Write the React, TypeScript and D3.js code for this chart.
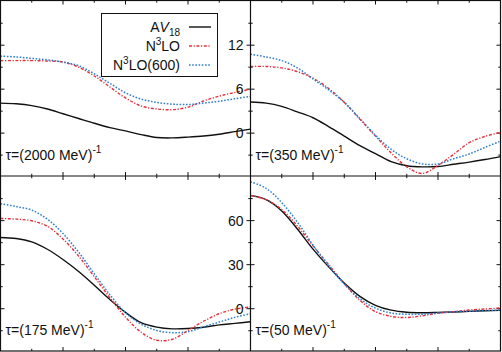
import React from 'react'
import * as d3 from 'd3'

// r grid (arbitrary units, 0..4 across each panel)
const rGrid = [0, 0.25, 0.5, 0.75, 1, 1.25, 1.5, 1.75, 2, 2.25, 2.5, 2.75, 3, 3.25, 3.5, 3.75, 4]

const tauLabels = ['2000', '350', '175', '50']

// tau = (2000 MeV)^-1
const av18_2000 = [4.1, 4.0, 3.75, 3.3, 2.65, 2.0, 1.35, 0.75, 0.3, -0.2, -0.6, -0.65, -0.55, -0.4, -0.15, 0.2, 0.55]
const n3lo_2000 = [9.9, 9.9, 9.9, 9.85, 9.7, 9.0, 7.8, 6.3, 4.8, 3.7, 3.3, 3.2, 3.55, 4.4, 5.05, 5.55, 6.0]
const n3lo600_2000 = [10.5, 10.4, 10.2, 10.0, 9.7, 9.2, 8.1, 6.8, 5.5, 4.65, 4.2, 3.95, 3.9, 4.1, 4.35, 4.7, 5.0]

// tau = (350 MeV)^-1
const av18_350 = [4.25, 4.1, 3.65, 2.9, 2.1, 0.9, -0.4, -1.7, -2.8, -3.9, -4.45, -4.6, -4.55, -4.25, -3.95, -3.6, -3.2]
const n3lo_350 = [9.1, 9.1, 8.9, 8.4, 7.5, 6.1, 4.2, 1.9, -0.4, -2.7, -4.6, -5.5, -4.4, -2.9, -1.3, -0.45, 0.1]
const n3lo600_350 = [10.75, 10.4, 9.9, 8.9, 7.4, 5.9, 4.2, 2.0, -0.3, -2.2, -3.5, -4.2, -4.2, -3.5, -2.85, -1.95, -1.1]

// tau = (175 MeV)^-1
const av18_175 = [48.5, 47.8, 45.5, 40.5, 33.5, 25.3, 16.0, 6.3, -2.5, -9.5, -12.5, -13.7, -13.5, -12.6, -11.0, -10.0, -8.9]
const n3lo_175 = [61.5, 61.0, 59.9, 56.2, 47.5, 35.8, 21.8, 7.5, -5.8, -16.0, -21.5, -20.8, -14.8, -8.5, -3.4, -0.3, 1.2]
const n3lo600_175 = [71.5, 69.6, 67.2, 61.0, 51.2, 38.5, 23.8, 9.5, -2.8, -10.5, -14.8, -16.3, -15.6, -12.3, -9.1, -5.9, -3.4]

// tau = (50 MeV)^-1
const av18_50 = [77.2, 74.3, 66.6, 54.3, 40.6, 28.5, 17.5, 8.4, 2.3, -1.0, -2.4, -2.7, -2.5, -2.2, -1.8, -1.4, -1.1]
const n3lo_50 = [77.2, 74.3, 67.6, 56.3, 42.8, 30.1, 17.1, 5.7, -2.0, -5.2, -6.0, -4.8, -3.1, -2.0, -0.9, -0.2, 0.5]
const n3lo600_50 = [86.5, 82.0, 72.3, 59.0, 43.4, 29.2, 16.8, 6.8, 0.4, -2.9, -3.8, -3.7, -3.0, -2.1, -1.7, -1.3, -0.9]

const topTicks = [-3, 0, 3, 6, 9, 12, 15]
const topLabels = [0, 6, 12]
const bottomTicks = [-15, 0, 15, 30, 45, 60, 75]
const bottomLabels = [0, 30, 60]
const xTicks = [0.5, 1, 1.5, 2, 2.5, 3, 3.5]

const BLACK = '#111'
const RED = '#e8303a'
const BLUE = '#2f7fcf'
const FONT = '"Liberation Sans", Arial, Helvetica, sans-serif'

const panels = [
  { tau: tauLabels[0], series: [av18_2000, n3lo_2000, n3lo600_2000], col: 0, row: 0 },
  { tau: tauLabels[1], series: [av18_350, n3lo_350, n3lo600_350], col: 1, row: 0 },
  { tau: tauLabels[2], series: [av18_175, n3lo_175, n3lo600_175], col: 0, row: 1 },
  { tau: tauLabels[3], series: [av18_50, n3lo_50, n3lo600_50], col: 1, row: 1 },
]

const styles = [
  { stroke: BLACK, dash: undefined, width: 1.4 },
  { stroke: RED, dash: '3,1.6,1.2,1.6', width: 1.4 },
  { stroke: BLUE, dash: '1.6,1.6', width: 1.5 },
]

const xLeft = [0.5, 250.5, 500.5]
const yTop = [0.5, 176, 351]

const App = () => {
  const width = 502
  const height = 352

  const yScales = [
    d3.scaleLinear().domain([-5.85, 18.1]).range([yTop[1], yTop[0]]),
    d3.scaleLinear().domain([-28.8, 90.4]).range([yTop[2], yTop[1]]),
  ]
  const ticksFor = [topTicks, bottomTicks]
  const labelsFor = [topLabels, bottomLabels]
  const majorStep = [6, 30]

  return (
    <svg width={width} height={height} style={{ position: 'absolute', left: 0, top: 0, background: '#fff' }}
      fontFamily={FONT}>
      <defs>
        {panels.map((p, i) => (
          <clipPath id={`clip${i}`} key={i}>
            <rect x={xLeft[p.col]} y={yTop[p.row]} width={xLeft[p.col + 1] - xLeft[p.col]} height={yTop[p.row + 1] - yTop[p.row]} />
          </clipPath>
        ))}
      </defs>
      {panels.map((p, i) => {
        const x = d3.scaleLinear().domain([0, 4]).range([xLeft[p.col], xLeft[p.col + 1]])
        const y = yScales[p.row]
        const x0 = xLeft[p.col], x1 = xLeft[p.col + 1]
        const y0 = yTop[p.row], y1 = yTop[p.row + 1]
        const line = d3.line<number>()
          .x((d, k) => x(rGrid[k]))
          .y(d => y(d))
          .curve(d3.curveCatmullRom.alpha(0.5))
        return (
          <g key={i}>
            {/* ticks, inward on all four sides */}
            {xTicks.map(t => {
              const len = Number.isInteger(t) ? 4 : 2.2
              return (
                <g key={'x' + t} stroke={BLACK} strokeWidth={1}>
                  <line x1={x(t)} x2={x(t)} y1={y1} y2={y1 - len} />
                  <line x1={x(t)} x2={x(t)} y1={y0} y2={y0 + len} />
                </g>
              )
            })}
            {ticksFor[p.row].map(t => {
              const len = t % majorStep[p.row] === 0 ? 4 : 2.2
              return (
                <g key={'y' + t} stroke={BLACK} strokeWidth={1}>
                  <line x1={x0} x2={x0 + len} y1={y(t)} y2={y(t)} />
                  <line x1={x1} x2={x1 - len} y1={y(t)} y2={y(t)} />
                </g>
              )
            })}
            {/* right-column axis labels sit just left of its frame */}
            {p.col === 1 && labelsFor[p.row].map(t => (
              <text key={'l' + t} x={x0 - 7} y={y(t)} dy="0.36em" textAnchor="end" fontSize={14} fill={BLACK}>{t}</text>
            ))}
            <g clipPath={`url(#clip${i})`}>
              {p.series.map((s, k) => (
                <path key={k} d={line(s) || ''} fill="none" stroke={styles[k].stroke}
                  strokeWidth={styles[k].width} strokeDasharray={styles[k].dash} />
              ))}
            </g>
            <text x={x0 + 5} y={y1 - 16} fontSize={14} fill={BLACK}>
              τ=({p.tau} MeV)<tspan dy={-7} fontSize={10}>-1</tspan>
            </text>
          </g>
        )
      })}
      {/* frames */}
      <g fill="none" stroke={BLACK} strokeWidth={1.2}>
        <rect x={xLeft[0]} y={yTop[0]} width={xLeft[2] - xLeft[0]} height={yTop[2] - yTop[0]} />
        <line x1={xLeft[1]} x2={xLeft[1]} y1={yTop[0]} y2={yTop[2]} />
        <line x1={xLeft[0]} x2={xLeft[2]} y1={yTop[1]} y2={yTop[1]} />
      </g>
      {/* legend */}
      <g>
        <rect x={101.5} y={13.5} width={116} height={63} fill="#fff" stroke={BLACK} strokeWidth={1} />
        {['AV18', 'N3LO', 'N3LO(600)'].map((name, k) => {
          const ly = 27 + k * 19
          return (
            <g key={name}>
              <text x={180} y={ly} dy="0.36em" textAnchor="end" fontSize={14} fill={BLACK}>
                {k === 0 ? (
                  <>A<tspan fontStyle="italic">V</tspan><tspan dy={4} fontSize={10}>18</tspan></>
                ) : (
                  <>N<tspan dy={-6} fontSize={10}>3</tspan><tspan dy={6}>{k === 1 ? 'LO' : 'LO(600)'}</tspan></>
                )}
              </text>
              <line x1={189} x2={211} y1={ly} y2={ly} stroke={styles[k].stroke}
                strokeWidth={styles[k].width} strokeDasharray={styles[k].dash} />
            </g>
          )
        })}
      </g>
    </svg>
  )
}

export default App
